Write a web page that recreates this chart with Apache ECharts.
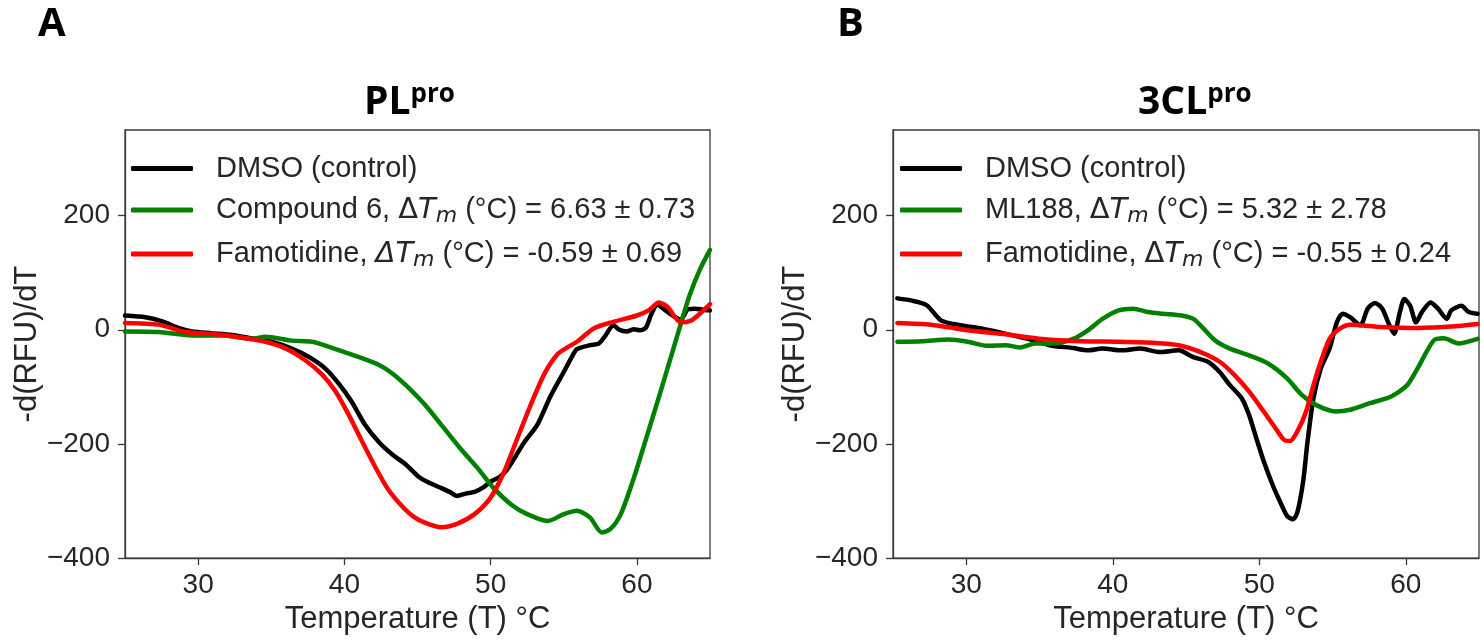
<!DOCTYPE html>
<html>
<head>
<meta charset="utf-8">
<script src="https://cdn.jsdelivr.net/npm/echarts@6.0.0/dist/echarts.min.js"></script>
<style>
html,body{margin:0;padding:0;background:#fff;}
#chart{width:1480px;height:640px;}
</style>
</head>
<body>
<div id="chart"></div>
<script>
// ---------- DATA ----------
const xTicks = [30, 40, 50, 60];
const yTicks = [-400, -200, 0, 200];

// Panel A: PLpro
const plDmsoT = [25.0,26.4,27.5,28.7,29.6,30.9,32.3,33.7,35.0,36.4,37.6,38.7,39.6,40.5,41.4,42.4,43.3,44.2,45.1,45.8,46.6,47.2,47.7,48.3,48.9,49.5,50.0,50.6,51.1,51.7,52.3,53.2,54.1,55.0,55.5,55.9,56.8,57.4,57.8,58.4,58.8,59.3,59.8,60.2,60.6,61.0,61.4,62.0,62.5,63.0,63.5,64.0,64.5,65.0];
const plDmsoV = [25,22,15,3,-3,-6,-9,-15,-21,-33,-48,-68,-94,-126,-166,-198,-219,-236,-258,-268,-277,-284,-291,-287,-284,-276,-266,-258,-246,-222,-197,-166,-116,-74,-50,-34,-27,-24,-12,8,0,-3,1,-1,3,28,44,33,24,18,36,37,35,34];

const plCmpdT = [25.0,27.3,29.6,31.8,33.7,34.6,36.4,37.8,39.2,41.0,42.4,43.3,44.2,45.1,45.7,46.8,47.9,49.1,50.2,51.4,52.5,53.9,55.0,55.9,56.8,57.6,58.2,58.9,59.8,60.7,61.6,62.3,63.0,63.6,64.3,65.0];
const plCmpdV = [-3,-4,-10,-10,-16,-12,-19,-21,-32,-48,-62,-77,-97,-120,-137,-172,-207,-242,-277,-306,-323,-335,-323,-317,-329,-355,-349,-323,-259,-185,-110,-50,10,60,105,140];

const plFamoT = [25.0,27.3,29.1,30.9,32.8,34.6,36.0,37.3,38.5,39.4,40.3,41.2,42.1,43.0,43.9,44.7,45.5,46.6,47.7,48.9,50.0,50.9,51.8,52.7,53.7,54.6,55.3,55.9,57.1,58.4,60.0,60.8,61.5,62.1,63.0,63.7,64.3,65.0];
const plFamoV = [12,9,-4,-7,-13,-21,-33,-53,-79,-108,-149,-195,-240,-280,-308,-327,-338,-346,-340,-323,-294,-250,-192,-134,-76,-42,-30,-21,3,14,25,34,48,40,13,16,28,45];

// Panel B: 3CLpro
const clDmsoT = [25.3,26.3,27.3,28.3,29.6,31.1,32.7,34.2,35.7,37.3,38.3,39.3,40.6,41.9,43.2,44.5,45.5,46.5,47.3,48.0,48.8,49.3,49.8,50.3,50.9,51.4,51.9,52.3,52.6,53.0,53.3,53.7,54.2,54.8,55.3,55.7,56.2,56.9,57.4,57.9,58.4,58.8,59.2,59.6,59.9,60.3,60.7,61.1,61.7,62.2,62.8,63.1,63.8,64.3,64.9];
const clDmsoV = [55,51,43,16,8,2,-7,-16,-27,-32,-36,-33,-36,-33,-39,-36,-48,-56,-74,-97,-120,-149,-190,-230,-271,-300,-326,-332,-320,-265,-195,-120,-68,-33,13,28,22,8,37,47,37,13,-7,31,54,42,13,31,48,37,19,34,42,31,28];

const clMlT = [25.3,27.0,28.8,30.1,31.4,32.7,33.7,34.7,36.0,37.3,38.3,39.3,40.4,41.4,42.4,43.4,44.7,45.5,46.2,47.0,48.0,49.3,50.6,51.9,52.9,53.9,55.2,56.2,57.5,59.0,60.1,60.8,61.9,62.6,63.6,64.9];
const clMlV = [-21,-20,-17,-21,-28,-27,-31,-24,-24,-16,-1,19,34,37,31,28,25,19,2,-19,-33,-45,-59,-85,-114,-132,-143,-140,-129,-117,-97,-68,-19,-15,-24,-16];

const clFamoT = [25.3,27.6,30.1,32.7,35.2,37.8,40.4,42.9,44.5,46.0,47.3,48.3,49.3,50.3,51.1,51.7,52.1,52.6,53.2,53.7,54.2,54.8,55.5,56.2,58.3,60.8,63.4,64.9];
const clFamoV = [12,9,-1,-8,-16,-20,-21,-23,-27,-39,-56,-79,-108,-143,-172,-193,-195,-178,-143,-97,-56,-16,2,9,5,3,6,10];

const legendLabels = {
  'DMSO (control)': '{g| }{n|DMSO (control)}',
  'Compound 6': '{g| }{n|Compound 6, }{d|Δ}{i|T}{s|m}{n| (°C) = 6.63 ± 0.73}',
  'Famotidine (PLpro)': '{g| }{n|Famotidine, }{di|Δ}{i|T}{s|m}{n| (°C) = -0.59 ± 0.69}',
  'ML188': '{g| }{n|ML188, }{d|Δ}{i|T}{s|m}{n| (°C) = 5.32 ± 2.78}',
  'Famotidine (3CLpro)': '{g| }{n|Famotidine, }{d|Δ}{i|T}{s|m}{n| (°C) = -0.55 ± 0.24}'
};

// ---------- STYLE ----------
const TXT = '#262626';
const AX = '#3a3a3a';
const FONT = 'Liberation Sans, Arial, sans-serif';
const zip = (a, b) => a.map((t, i) => [t, b[i]]);

const richLegend = {
  g: {width: 18, fontSize: 29, lineHeight: 34},
  n: {fontSize: 29, fontFamily: FONT, color: TXT, lineHeight: 34},
  d: {fontSize: 29, fontFamily: 'DejaVu Sans', color: TXT, lineHeight: 34},
  di: {fontSize: 29, fontFamily: 'DejaVu Sans', fontStyle: 'italic', color: TXT, lineHeight: 34},
  i: {fontSize: 29, fontFamily: 'DejaVu Sans', fontStyle: 'italic', color: TXT, lineHeight: 34},
  s: {fontSize: 22, fontFamily: 'DejaVu Sans', fontStyle: 'italic', color: TXT, lineHeight: 26, padding: [12, 0, 0, 0]}
};

function mkX(gi) {
  return {
    gridIndex: gi, type: 'value', min: 25, max: 65,
    splitLine: {show: false},
    axisLine: {show: true, onZero: false, lineStyle: {color: AX, width: 1.3}},
    axisTick: {show: true, length: 7, customValues: xTicks, lineStyle: {color: AX, width: 1.3}},
    axisLabel: {customValues: xTicks, fontSize: 28, color: TXT, fontFamily: FONT, margin: 13},
    name: 'Temperature (T) °C', nameLocation: 'middle', nameGap: 45,
    nameTextStyle: {fontSize: 31, color: TXT, fontFamily: FONT}
  };
}
function mkY(gi) {
  return {
    gridIndex: gi, type: 'value', min: -400, max: 350,
    splitLine: {show: false},
    axisLine: {show: true, onZero: false, lineStyle: {color: AX, width: 1.3}},
    axisTick: {show: true, length: 7, customValues: yTicks, lineStyle: {color: AX, width: 1.3}},
    axisLabel: {customValues: yTicks, fontSize: 28, color: TXT, fontFamily: FONT, margin: 15,
      formatter: v => v < 0 ? '\u2212' + Math.abs(v) : String(v)},
    name: '-d(RFU)/dT', nameLocation: 'middle', nameGap: 82,
    nameTextStyle: {fontSize: 31, color: TXT, fontFamily: FONT}
  };
}
function mkSeries(name, gi, data, color) {
  return {
    name, type: 'line', xAxisIndex: gi, yAxisIndex: gi, data,
    symbol: 'none', smooth: 0.25, animation: false,
    lineStyle: {color, width: 4.5, cap: 'round', join: 'round'},
    itemStyle: {color}
  };
}
function mkLegend(names, left) {
  return {
    data: names, orient: 'vertical', left, top: 154, padding: 0,
    icon: 'roundRect', itemWidth: 62, itemHeight: 5, itemGap: 10, itemTextGap: 5,
    selectedMode: false,
    formatter: n => legendLabels[n],
    textStyle: {rich: richLegend, fontSize: 29, color: TXT}
  };
}

const titleRich = {
  a: {fontSize: 39, fontWeight: 'bold', fontFamily: 'Open Sans', color: '#000'},
  b: {fontSize: 26, fontWeight: 'bold', fontFamily: 'Open Sans', color: '#000', padding: [0, 0, 16, 0]}
};

const option = {
  animation: false,
  backgroundColor: '#fff',
  title: [
    {text: 'A', left: 33, top: 0, textStyle: {fontSize: 40, fontWeight: 'bold', fontFamily: 'Open Sans', color: '#000'}},
    {text: 'B', left: 832, top: 0, textStyle: {fontSize: 40, fontWeight: 'bold', fontFamily: 'Open Sans', color: '#000'}},
    {text: '{a|PL}{b|pro}', left: 359, top: 77, textStyle: {rich: titleRich}},
    {text: '{a|3CL}{b|pro}', left: 1133, top: 77, textStyle: {rich: titleRich}}
  ],
  grid: [
    {left: 125, top: 130, width: 585, height: 431, show: true, borderColor: AX, borderWidth: 1.3},
    {left: 893, top: 130, width: 586, height: 431, show: true, borderColor: AX, borderWidth: 1.3}
  ],
  xAxis: [mkX(0), mkX(1)],
  yAxis: [mkY(0), mkY(1)],
  legend: [
    mkLegend(['DMSO (control)', 'Compound 6', 'Famotidine (PLpro)'], 131),
    mkLegend(['DMSO (control)', 'ML188', 'Famotidine (3CLpro)'], 900)
  ],
  series: [
    mkSeries('DMSO (control)', 0, zip(plDmsoT, plDmsoV), '#000000'),
    mkSeries('Compound 6', 0, zip(plCmpdT, plCmpdV), '#008000'),
    mkSeries('Famotidine (PLpro)', 0, zip(plFamoT, plFamoV), '#ff0000'),
    mkSeries('DMSO (control)', 1, zip(clDmsoT, clDmsoV), '#000000'),
    mkSeries('ML188', 1, zip(clMlT, clMlV), '#008000'),
    mkSeries('Famotidine (3CLpro)', 1, zip(clFamoT, clFamoV), '#ff0000')
  ]
};

const chart = echarts.init(document.getElementById('chart'), null, {renderer: 'canvas'});
chart.setOption(option);
</script>
</body>
</html>
